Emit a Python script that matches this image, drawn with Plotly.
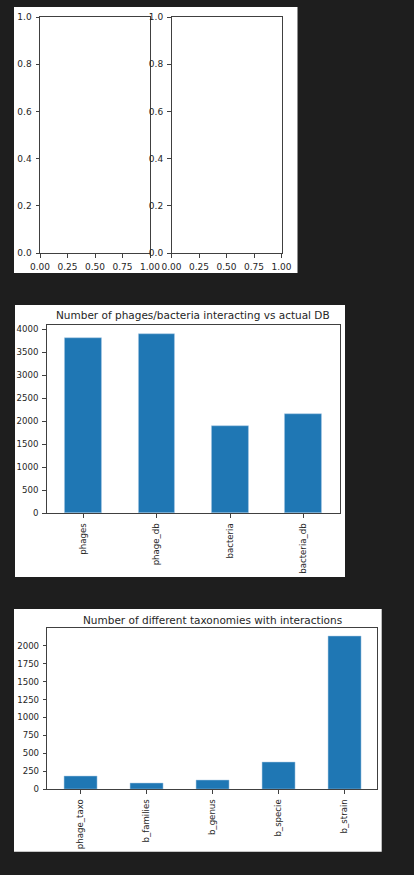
import plotly.graph_objects as go

W, H = 414, 875

# Data
cat1 = ["phages", "phage_db", "bacteria", "bacteria_db"]
val1 = [3819, 3898, 1901, 2148]
title1 = "Number of phages/bacteria interacting vs actual DB"

cat2 = ["phage_taxo", "b_families", "b_genus", "b_specie", "b_strain"]
val2 = [181, 84, 120, 376, 2135]
title2 = "Number of different taxonomies with interactions"

empty_x_ticks = [0.0, 0.25, 0.5, 0.75, 1.0]
empty_y_ticks = [0.0, 0.2, 0.4, 0.6, 0.8, 1.0]

BG = "#1e1e1e"
BAR = "#1f77b4"
AX = "#404040"
TXT = "#262626"
FONT = "DejaVu Sans"


def px(x0, x1):
    return [x0 / W, x1 / W]


def py(ytop, ybot):
    return [1 - ybot / H, 1 - ytop / H]


fig = go.Figure()

# empty trace placeholders so empty axes are drawn
fig.add_trace(go.Scatter(x=[], y=[], xaxis="x", yaxis="y", showlegend=False))
fig.add_trace(go.Scatter(x=[], y=[], xaxis="x2", yaxis="y2", showlegend=False))

fig.add_trace(go.Bar(x=cat1, y=val1, xaxis="x3", yaxis="y3", width=0.5,
                     marker=dict(color=BAR, line=dict(color="#a9c9e4", width=0.5)),
                     showlegend=False, hoverinfo="x+y"))
fig.add_trace(go.Bar(x=cat2, y=val2, xaxis="x4", yaxis="y4", width=0.5,
                     marker=dict(color=BAR, line=dict(color="#a9c9e4", width=0.5)),
                     showlegend=False, hoverinfo="x+y"))

common = dict(showline=True, mirror=True, linecolor=AX, linewidth=1, showgrid=False,
              zeroline=False, ticks="outside", ticklen=3.5, tickwidth=0.8, tickcolor=AX,
              tickfont=dict(family=FONT, size=9, color=TXT), fixedrange=True,
              automargin=False, ticklabelstandoff=2)
common_bar = dict(common)
common_bar["tickfont"] = dict(family=FONT, size=8.6, color=TXT)

ydom_top = py(17, 253)

layout = dict(
    template="none",
    width=W, height=H, autosize=False,
    margin=dict(l=0, r=0, t=0, b=0, pad=0),
    paper_bgcolor=BG, plot_bgcolor="white",
    font=dict(family=FONT, color=TXT),
    bargap=0,
    xaxis=dict(domain=px(40, 150), anchor="y", range=[0, 1], tickmode="array",
               tickvals=empty_x_ticks, ticktext=[f"{v:.2f}" for v in empty_x_ticks], **common),
    yaxis=dict(domain=ydom_top, anchor="x", range=[0, 1], tickmode="array",
               tickvals=empty_y_ticks, ticktext=[f"{v:.1f}" for v in empty_y_ticks], **common),
    xaxis2=dict(domain=px(171.5, 281.5), anchor="y2", range=[0, 1], tickmode="array",
                tickvals=empty_x_ticks, ticktext=[f"{v:.2f}" for v in empty_x_ticks], **common),
    yaxis2=dict(domain=ydom_top, anchor="x2", range=[0, 1], tickmode="array",
                tickvals=empty_y_ticks, ticktext=[f"{v:.1f}" for v in empty_y_ticks], **common),
    xaxis3=dict(domain=px(46.7, 340), anchor="y3", range=[-0.5, len(cat1) - 0.5],
                tickangle=-90, **common_bar),
    yaxis3=dict(domain=py(325, 513.3), anchor="x3", range=[0, max(val1) * 1.05],
                tickmode="linear", tick0=0, dtick=500, **common_bar),
    xaxis4=dict(domain=px(47.3, 377.3), anchor="y4", range=[-0.5, len(cat2) - 0.5],
                tickangle=-90, **common_bar),
    yaxis4=dict(domain=py(628.3, 789.3), anchor="x4", range=[0, max(val2) * 1.05],
                tickmode="linear", tick0=0, dtick=250, **common_bar),
    shapes=[
        dict(type="rect", xref="paper", yref="paper", layer="below",
             x0=14 / W, x1=297.5 / W, y0=1 - 273 / H, y1=1 - 7 / H,
             fillcolor="white", line=dict(width=0)),
        dict(type="rect", xref="paper", yref="paper", layer="below",
             x0=15 / W, x1=345 / W, y0=1 - 577 / H, y1=1 - 305 / H,
             fillcolor="white", line=dict(width=0)),
        dict(type="rect", xref="paper", yref="paper", layer="below",
             x0=14 / W, x1=381.7 / W, y0=1 - 851.7 / H, y1=1 - 609 / H,
             fillcolor="white", line=dict(width=0)),
    ],
    annotations=[
        dict(text=title1, xref="paper", yref="paper", x=(46.7 + 340) / 2 / W,
             y=1 - 315 / H, xanchor="center", yanchor="middle", showarrow=False,
             font=dict(family=FONT, size=10.5, color=TXT)),
        dict(text=title2, xref="paper", yref="paper", x=(47.3 + 377.3) / 2 / W,
             y=1 - 619.5 / H, xanchor="center", yanchor="middle", showarrow=False,
             font=dict(family=FONT, size=10.5, color=TXT)),
    ],
)

fig.update_layout(**layout)
fig.write_html(
    "out.html",
    post_script="document.body.style.margin='0';document.body.style.padding='0';"
                "document.body.style.overflow='hidden';document.body.style.background='#1e1e1e';",
)
